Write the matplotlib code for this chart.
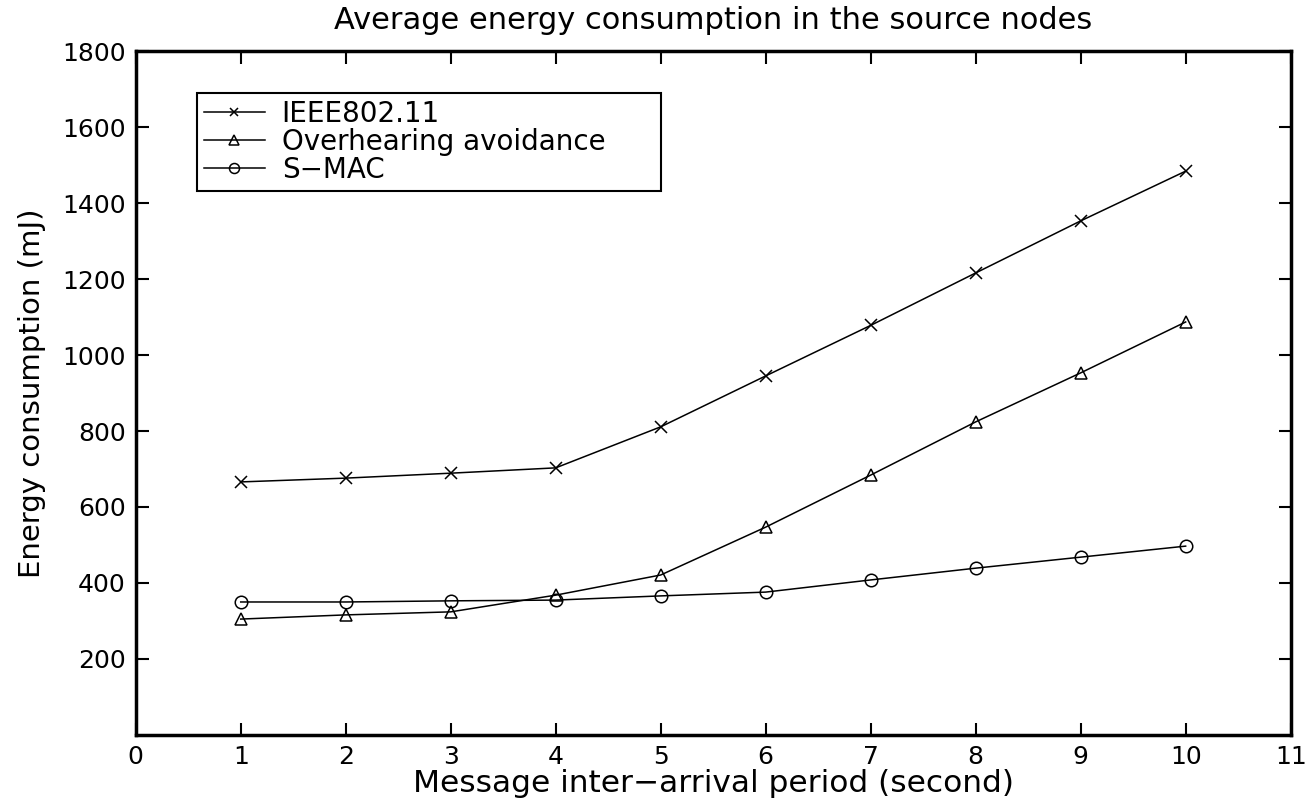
import matplotlib.pyplot as plt

x_period = [1, 2, 3, 4, 5, 6, 7, 8, 9, 10]
ieee_80211 = [666, 676, 689, 703, 811, 945, 1078, 1216, 1353, 1484]
overhearing = [305, 316, 324, 368, 421, 547, 684, 824, 953, 1087]
s_mac = [350, 350, 353, 355, 366, 376, 408, 439, 468, 497]

x_ticks = list(range(0, 12))
y_ticks = [200, 400, 600, 800, 1000, 1200, 1400, 1600, 1800]


def main():
    plt.rcParams['font.family'] = ['DejaVu Sans']
    fig = plt.figure(figsize=(13.05, 7.98), dpi=100)
    ax = fig.add_axes([0.104, 0.079, 0.885, 0.857])

    ax.plot(x_period, ieee_80211, color='black', lw=1.1, marker='x',
            ms=8, mew=1.1, label='IEEE802.11')
    ax.plot(x_period, overhearing, color='black', lw=1.1, marker='^',
            ms=9, mfc='none', mew=1.1, label='Overhearing avoidance')
    ax.plot(x_period, s_mac, color='black', lw=1.1, marker='o',
            ms=9, mfc='none', mew=1.1, label='S\u2212MAC')

    ax.set_xlim(0, 11)
    ax.set_ylim(0, 1800)
    ax.set_xticks(x_ticks)
    ax.set_yticks(y_ticks)
    ax.tick_params(direction='in', length=9, width=1.5, labelsize=18,
                   top=True, right=True, pad=7)
    for side in ax.spines.values():
        side.set_linewidth(2.5)

    ax.set_title('Average energy consumption in the source nodes', fontsize=22, pad=16)
    ax.set_xlabel('Message inter\u2212arrival period (second)', fontsize=22.5, labelpad=0)
    ax.set_ylabel('Energy consumption (mJ)', fontsize=21, labelpad=12)

    # expand mode so the frame gets the same width as in the original
    leg = ax.legend(loc='upper left', bbox_to_anchor=(0.053, 0.5, 0.402, 0.439),
                    mode='expand', fontsize=20,
                    fancybox=False, edgecolor='black', framealpha=1,
                    handlelength=2.2, handletextpad=0.6, borderpad=0.25,
                    labelspacing=0.0, borderaxespad=0, markerscale=0.8)
    leg.get_frame().set_linewidth(1.5)

    fig.savefig('out.png', dpi=100)


if __name__ == "__main__":
    main()
